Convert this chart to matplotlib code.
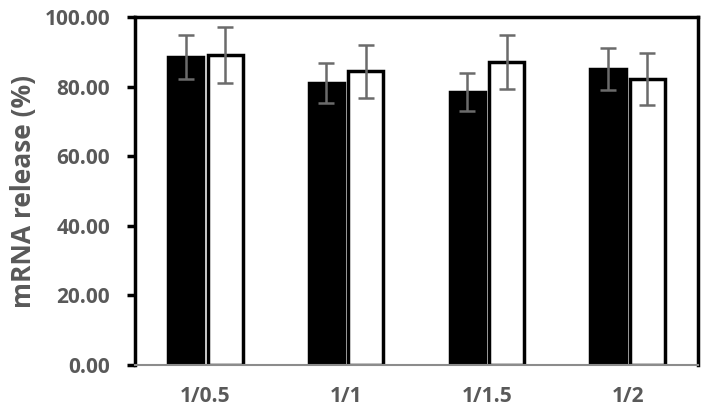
import numpy as np
import matplotlib
matplotlib.use("Agg")
import matplotlib.pyplot as plt

# values
ratios = ["1/0.5", "1/1", "1/1.5", "1/2"]
black_vals = [88.5, 81.0, 78.5, 85.0]
black_err = [6.3, 5.7, 5.5, 6.0]
white_vals = [89.0, 84.4, 87.0, 82.2]
white_err = [8.0, 7.7, 7.7, 7.4]
yticks = [0, 20, 40, 60, 80, 100]

gray = "#595959"
plt.rcParams['font.family'] = ['Open Sans', 'DejaVu Sans']

fig = plt.figure(figsize=(7.08, 4.17), dpi=100)
ax = fig.add_axes([0.1907, 0.1247, 0.7953, 0.8345])

x = np.arange(len(ratios))
w = 0.25
off = 0.14
ekw = dict(ecolor="#6b6b6b", elinewidth=1.8, capsize=6, capthick=1.8)
ax.bar(x - off, black_vals, w, color="black", edgecolor="black", linewidth=2.5,
       yerr=black_err, error_kw=ekw, zorder=2)
ax.bar(x + off, white_vals, w, color="white", edgecolor="black", linewidth=2.5,
       yerr=white_err, error_kw=ekw, zorder=2)

ax.set_xlim(-0.5, len(ratios) - 0.5)
ax.set_ylim(0, 100)
ax.set_yticks(yticks)
ax.set_yticklabels(["%.2f" % v for v in yticks])
ax.set_xticks(x)
ax.set_xticklabels(ratios)

for s in ["left", "top", "right"]:
    ax.spines[s].set_linewidth(2.5)
    ax.spines[s].set_color("black")
ax.spines["bottom"].set_linewidth(1.5)
ax.spines["bottom"].set_color("#8c8c8c")

ax.tick_params(axis="y", length=6, width=2.5, color="black", pad=12,
               labelsize=15, labelcolor=gray)
ax.tick_params(axis="x", length=0, pad=15, labelsize=15, labelcolor=gray)
for lab in ax.get_xticklabels() + ax.get_yticklabels():
    lab.set_fontweight("bold")

ax.set_ylabel("mRNA release (%)", fontsize=19, fontweight="bold", color=gray, labelpad=5)

fig.savefig("out.png", dpi=100)
